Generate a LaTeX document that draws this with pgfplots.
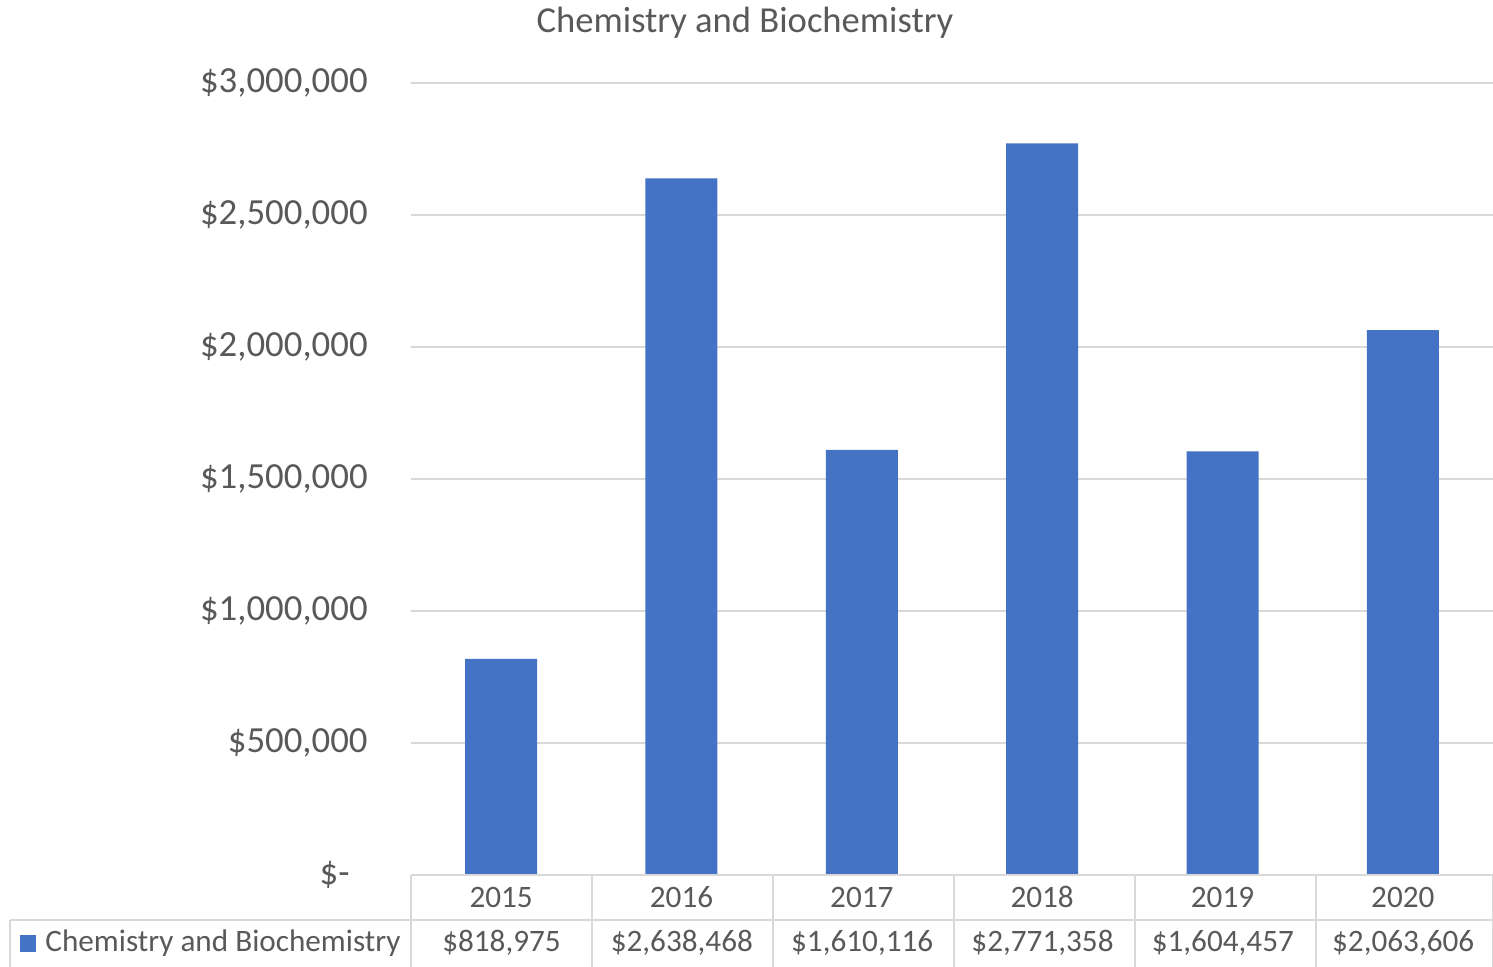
\documentclass[border=0pt]{standalone}
\usepackage{pgfplots}
\pgfplotsset{compat=1.18}
\usepackage{fontspec}
\setmainfont{Carlito}
\usetikzlibrary{calc}
\definecolor{barblue}{HTML}{4472C4}
\definecolor{txt}{HTML}{595959}
\definecolor{grd}{HTML}{D9D9D9}
\begin{document}
\begin{tikzpicture}
\begin{axis}[name=ax, scale only axis, width=541pt, height=396pt,
  xmin=-0.5, xmax=5.5, ymin=0, ymax=3000000,
  axis line style={draw=none},
  ytick={0,500000,1000000,1500000,2000000,2500000,3000000},
  yticklabels={\$-\kern9pt\null,\$500{,}000,\$1{,}000{,}000,\$1{,}500{,}000,\$2{,}000{,}000,\$2{,}500{,}000,\$3{,}000{,}000},
  xtick={0,1,2,3,4,5},
  xticklabels={2015,2016,2017,2018,2019,2020},
  major tick length=0pt,
  ymajorgrids, grid style={grd, line width=0.75pt},
  ybar, bar width=36pt,
  /pgf/number format/assume math mode=true,
  yticklabel style={font=\fontsize{18.4}{22}\selectfont, text=txt, anchor=east, inner sep=0pt, xshift=-21.5pt},
  xticklabel style={font=\fontsize{15.6}{19}\selectfont, text=txt, anchor=center, inner sep=0pt, yshift=-11pt},
  scaled y ticks=false,
  clip=false,
]
\addplot[fill=barblue, draw=none] coordinates {(0,818975) (1,2638468) (2,1610116) (3,2771358) (4,1604457) (5,2063606)};
\end{axis}
\begin{scope}[shift={($(ax.south west)+(-205.5pt,437.5pt)$)}, x=0.5pt, y=-0.5pt]
  \draw[grd, line width=1pt] (411,875) -- (1493,875);
  \draw[grd, line width=1pt] (10,920) -- (1493,920);
  \draw[grd, line width=1pt] (10,920) -- (10,967);
  \foreach \x in {411,592,773,954,1135,1316,1492.5} \draw[grd, line width=1pt] (\x,875) -- (\x,967);
  \fill[barblue] (20,935) rectangle (36,952);
  \node[anchor=west, inner sep=0pt, text=txt, font=\fontsize{15.6}{19}\selectfont] at (45,943) {Chemistry and Biochemistry};
  \foreach \v [count=\i from 0] in {\$818{,}975,\$2{,}638{,}468,\$1{,}610{,}116,\$2{,}771{,}358,\$1{,}604{,}457,\$2{,}063{,}606}
    \node[inner sep=0pt, text=txt, font=\fontsize{15.6}{19}\selectfont] at ({501.5+180.33*\i},943) {\v};
  \node[inner sep=0pt, text=txt, font=\fontsize{18.3}{22}\selectfont] at (745,23) {Chemistry and Biochemistry};
  \pgfresetboundingbox
  \path[use as bounding box] (0,0) rectangle (1493,967);
\end{scope}
\end{tikzpicture}
\end{document}
